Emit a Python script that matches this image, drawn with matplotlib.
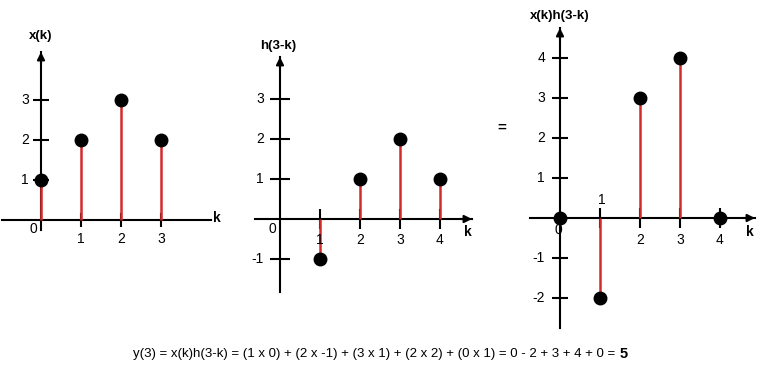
import matplotlib.pyplot as plt

plt.rcParams['font.family'] = ['Liberation Sans', 'DejaVu Sans']

# ---- data ----
k_x = [0, 1, 2, 3]
x_vals = [1, 2, 3, 2]

k_h = [1, 2, 3, 4]
h_vals = [-1, 1, 2, 1]

k_p = [0, 1, 2, 3, 4]
p_vals = [0, -2, 3, 4, 0]

equation = ('y(3) = x(k)h(3-k) = (1 x 0) + (2 x -1) + (3 x 1) + (2 x 2) '
            '+ (0 x 1) = 0 - 2 + 3 + 4 + 0 =')
result = '5'

W, H = 764, 368
UNIT = 40  # pixels per unit on both axes
STEM = '#d42a2a'

fig = plt.figure(figsize=(W / 100, H / 100), dpi=100)


def make_axes(x0, y0, xlim, ylim, xticks, yticks, xlen, ylen, xarrow=True):
    """Axes whose origin sits at pixel (x0, y0), 1 unit = 40 px."""
    left = (x0 + UNIT * xlim[0]) / W
    bottom = 1 - (y0 - UNIT * ylim[0]) / H
    ax = fig.add_axes([left, bottom,
                       UNIT * (xlim[1] - xlim[0]) / W,
                       UNIT * (ylim[1] - ylim[0]) / H])
    ax.set_xlim(xlim)
    ax.set_ylim(ylim)
    ax.patch.set_alpha(0)
    ax.spines['top'].set_visible(False)
    ax.spines['right'].set_visible(False)
    ax.spines['left'].set_position(('data', 0))
    ax.spines['bottom'].set_position(('data', 0))
    for s in ['left', 'bottom']:
        ax.spines[s].set_linewidth(1.5)
    ax.set_xticks(xticks)
    ax.set_yticks(yticks)
    ax.tick_params(axis='x', direction='inout', length=xlen, width=1.5,
                   labelbottom=False)
    ax.tick_params(axis='y', direction='inout', length=ylen, width=1.5,
                   labelleft=False)
    # arrow heads
    arrow = dict(arrowstyle='-|>', color='k', lw=1.5, mutation_scale=11,
                 shrinkA=0, shrinkB=0)
    ax.annotate('', xy=(0, ylim[1]), xytext=(0, ylim[1] - 0.3),
                arrowprops=arrow, annotation_clip=False)
    if xarrow:
        ax.annotate('', xy=(xlim[1], 0), xytext=(xlim[1] - 0.3, 0),
                    arrowprops=arrow, annotation_clip=False)
    return ax


def stems(ax, k, v):
    ax.vlines(k, 0, v, colors=STEM, lw=1.8, zorder=3)
    ax.plot(k, v, 'o', color='k', ms=9, zorder=4, clip_on=False)


def tick_labels(ax, xticks, yticks, xy_off, yx_off, skip_x=()):
    for t in xticks:
        if t in skip_x:
            continue
        ax.text(t, xy_off, str(t), ha='center', va='center', fontsize=10)
    for t in yticks:
        ax.text(yx_off, t, str(t), ha='right', va='center', fontsize=10)


# ================= x(k) =================
ax1 = make_axes(41, 220, (-0.975, 4.25), (-0.25, 4.2),
                [1, 2, 3], [1, 2, 3], 10, 11, xarrow=False)
stems(ax1, k_x, x_vals)
tick_labels(ax1, [1, 2, 3], [1, 2, 3], -0.47, -0.3)
ax1.text(-0.18, -0.22, '0', ha='center', va='center', fontsize=10)
ax1.text(0.0, 4.6, 'x(k)', ha='center', va='center', fontsize=9.5,
         fontweight='bold')
ax1.text(4.4, 0.05, 'k', ha='center', va='center', fontsize=10,
         fontweight='bold')

# ================= h(3-k) =================
ax2 = make_axes(280, 219, (-0.625, 4.8), (-1.825, 4.05),
                [1, 2, 3, 4], [-1, 1, 2, 3], 14, 14)
stems(ax2, k_h, h_vals)
tick_labels(ax2, [1, 2, 3, 4], [-1, 1, 2, 3], -0.52, -0.4)
ax2.text(-0.18, -0.25, '0', ha='center', va='center', fontsize=10)
ax2.text(-0.05, 4.33, 'h(3-k)', ha='center', va='center', fontsize=9.5,
         fontweight='bold')
ax2.text(4.7, -0.33, 'k', ha='center', va='center', fontsize=10,
         fontweight='bold')

# ================= x(k)h(3-k) =================
ax3 = make_axes(560, 218, (-0.75, 4.875), (-2.75, 4.75),
                [1, 2, 3, 4], [-2, -1, 1, 2, 3, 4], 14, 12)
stems(ax3, k_p, p_vals)
tick_labels(ax3, [1, 2, 3, 4], [-2, -1, 1, 2, 3, 4], -0.55, -0.375,
            skip_x=(1,))
ax3.text(1.05, 0.45, '1', ha='center', va='center', fontsize=10)
ax3.text(-0.05, -0.3, '0', ha='center', va='center', fontsize=10)
ax3.text(0.0, 5.05, 'x(k)h(3-k)', ha='center', va='center', fontsize=9.5,
         fontweight='bold')
ax3.text(4.75, -0.35, 'k', ha='center', va='center', fontsize=10,
         fontweight='bold')

fig.text(502 / W, 1 - 128 / H, '=', ha='center', va='center', fontsize=11,
         fontweight='bold')

# equation line with bold result
eq = fig.text(374 / W, 1 - 354 / H, equation, ha='center', va='center',
              fontsize=9.5)
ax3.annotate(result, xy=(1, 0.5), xycoords=eq, xytext=(3.5, 0),
             textcoords='offset points', ha='left', va='center',
             fontsize=10.5, fontweight='bold')

fig.savefig('out.png', dpi=100)
